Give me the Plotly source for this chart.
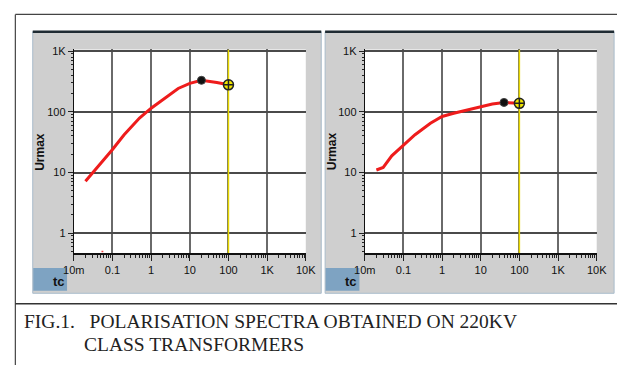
import plotly.graph_objects as go

# the page shows the figure shifted 8px to the right; compensate horizontally
OX, OY = 8, 0
W, H = 643 - 2 * OX, 365

# ---- data ----
tc_left = [0.02, 0.05, 0.1, 0.2, 0.5, 1, 2, 5, 10, 20, 50, 100]
ur_left = [7.2, 14, 24, 42, 79, 115, 157, 243, 295, 331, 305, 279]
peak_left = (20, 331)
cursor_left = (100, 279)

tc_right = [0.02, 0.03, 0.05, 0.1, 0.2, 0.5, 1, 2, 5, 10, 20, 40, 100]
ur_right = [11, 12.1, 18.8, 28, 42, 65, 84, 95, 110, 122, 135, 143, 138]
peak_right = (40, 143)
cursor_right = (100, 138)

artifact_x = [0.052, 0.058]
artifact_y = [0.5, 0.5]

xtick_vals = [0.01, 0.1, 1, 10, 100, 1000, 10000]
xtick_text = ["10m", "0.1", "1", "10", "100", "1K", "10K"]
ytick_vals = [1, 10, 100, 1000]
ytick_text = ["1", "10", "100", "1K"]
y_range_log = [-0.331, 3.028]
cursor_tc = 100

caption1 = "FIG.1.&nbsp;&nbsp; POLARISATION SPECTRA OBTAINED ON 220KV"
caption2 = "CLASS TRANSFORMERS"


def px(x):
    return (x - OX) / W


def py(y):
    return 1 - (y - OY) / H


minor_x = [m * 10 ** e for e in range(-2, 4) for m in range(2, 10)]
minor_y = [m * 10 ** e for e in range(-1, 3) for m in range(2, 10) if m * 10 ** e > 0.47]

fig = go.Figure()

panels = [
    dict(xd=(73, 313), tc=tc_left, ur=ur_left, peak=peak_left, cur=cursor_left,
         panel=(30.5, 329), ax="x", ay="y"),
    dict(xd=(374, 614), tc=tc_right, ur=ur_right, peak=peak_right, cur=cursor_right,
         panel=(333, 632), ax="x2", ay="y2"),
]

tickfont = dict(family="Liberation Sans Narrow, Arial Narrow, Liberation Sans, Arial", size=11, color="#111")
bg_shapes = []
fg_shapes = []
annotations = []

for i, p in enumerate(panels):
    xa, ya = p["ax"], p["ay"]
    ylo, yhi = 10 ** y_range_log[0], 10 ** y_range_log[1]
    # cursor line
    fig.add_trace(go.Scatter(x=[cursor_tc, cursor_tc], y=[ylo, yhi], mode="lines",
                             line=dict(color="#e8d800", width=1.5), xaxis=xa, yaxis=ya,
                             showlegend=False, hoverinfo="skip"))
    fig.add_trace(go.Scatter(x=p["tc"], y=p["ur"], mode="lines",
                             line=dict(color="#ee1c1c", width=3), xaxis=xa, yaxis=ya,
                             showlegend=False))
    fig.add_trace(go.Scatter(x=[p["peak"][0]], y=[p["peak"][1]], mode="markers",
                             marker=dict(color="#111", size=8, line=dict(color="#444", width=1)),
                             xaxis=xa, yaxis=ya, showlegend=False))
    fig.add_trace(go.Scatter(x=[p["cur"][0]], y=[p["cur"][1]], mode="markers",
                             marker=dict(color="#f2e600", size=10, symbol="circle-cross",
                                         line=dict(color="#222", width=1.5)),
                             xaxis=xa, yaxis=ya, showlegend=False))
    axn = "" if i == 0 else "2"
    # grey panel
    x0, x1 = p["panel"]
    bg_shapes.append(dict(type="rect", xref="paper", yref="paper", x0=px(x0), x1=px(x1),
                          y0=py(292.5), y1=py(28), fillcolor="#cfcfcf",
                          line=dict(color="#a9bccb", width=1), layer="below"))
    fg_shapes.append(dict(type="line", xref="paper", yref="paper", x0=px(x0), x1=px(x1),
                          y0=py(28), y1=py(28), line=dict(color="#1f2b33", width=2.5)))
    # white plot area background
    xd0, xd1 = p["xd"]
    bg_shapes.append(dict(type="rect", xref="paper", yref="paper", x0=px(xd0), x1=px(xd1),
                          y0=py(252), y1=py(46), fillcolor="white", line=dict(width=0),
                          layer="below"))
    # tc box
    bx0 = x0 + 0.5
    bg_shapes.append(dict(type="rect", xref="paper", yref="paper", x0=px(bx0), x1=px(bx0 + 35),
                          y0=py(290), y1=py(267), fillcolor="#7ea3c2", line=dict(width=0),
                          layer="below"))
    annotations.append(dict(text="<b>tc</b>", xref="paper", yref="paper", x=px(bx0 + 35),
                            y=py(281), xanchor="right", yanchor="middle", showarrow=False,
                            font=dict(family="Liberation Sans, Arial", size=13, color="#111")))
    annotations.append(dict(text="<b>Urmax</b>", xref="paper", yref="paper",
                            x=px(x0 + 8), y=py(149), textangle=-90, xanchor="center",
                            yanchor="middle", showarrow=False,
                            font=dict(family="Liberation Sans, Arial", size=12, color="#111")))

    fig.add_trace(go.Scatter(x=artifact_x if i == 0 else [], y=artifact_y if i == 0 else [],
                             mode="lines", line=dict(color="#ee4444", width=1.5),
                             xaxis=xa, yaxis=ya, showlegend=False, cliponaxis=False))

    fig.update_layout(**{
        "xaxis" + axn: dict(type="log", range=[-2, 4], domain=[px(xd0), px(xd1)],
                            anchor="y" + axn, tickvals=xtick_vals, ticktext=xtick_text,
                            ticks="outside", ticklen=6, tickcolor="#222", tickwidth=1,
                            showgrid=True, gridcolor="#6a6a6a", gridwidth=1.5,
                            showline=True, linecolor="#111", linewidth=1.5,
                            tickfont=tickfont, zeroline=False,
                            minor=dict(tickvals=minor_x, ticks="outside", ticklen=3,
                                       tickcolor="#222", showgrid=False)),
        "yaxis" + axn: dict(type="log", range=y_range_log, domain=[py(252), py(46)],
                            anchor="x" + axn, tickvals=ytick_vals, ticktext=ytick_text,
                            ticks="outside", ticklen=5, tickcolor="#222",
                            showgrid=True, gridcolor="#4a4a4a", gridwidth=1.5,
                            showline=True, linecolor="#111", linewidth=1,
                            tickfont=tickfont, zeroline=False,
                            minor=dict(tickvals=minor_y, ticks="outside", ticklen=2,
                                       tickcolor="#222", showgrid=False)),
    })

# outer frame
fg_shapes.append(dict(type="line", xref="paper", yref="paper", x0=px(12.5), x1=1,
                      y0=py(10.5), y1=py(10.5), line=dict(color="#444", width=1.2)))
fg_shapes.append(dict(type="line", xref="paper", yref="paper", x0=px(12.5), x1=px(12.5),
                      y0=py(10.5), y1=0, line=dict(color="#444", width=1.2)))
fg_shapes.append(dict(type="line", xref="paper", yref="paper", x0=px(12.5), x1=1,
                      y0=py(303), y1=py(303), line=dict(color="#333", width=1.5)))

capfont = dict(family="Liberation Serif, Times New Roman", size=19.5, color="#222")
annotations.append(dict(text=caption1, xref="paper", yref="paper", x=px(19), y=py(321),
                        xanchor="left", yanchor="middle", showarrow=False, font=capfont))
annotations.append(dict(text=caption2, xref="paper", yref="paper", x=px(81), y=py(344),
                        xanchor="left", yanchor="middle", showarrow=False, font=capfont))

fig.update_layout(width=W, height=H, margin=dict(l=0, r=0, t=0, b=0),
                  paper_bgcolor="white", plot_bgcolor="rgba(0,0,0,0)",
                  shapes=bg_shapes + fg_shapes, annotations=annotations, showlegend=False)

fig.write_html("out.html")
